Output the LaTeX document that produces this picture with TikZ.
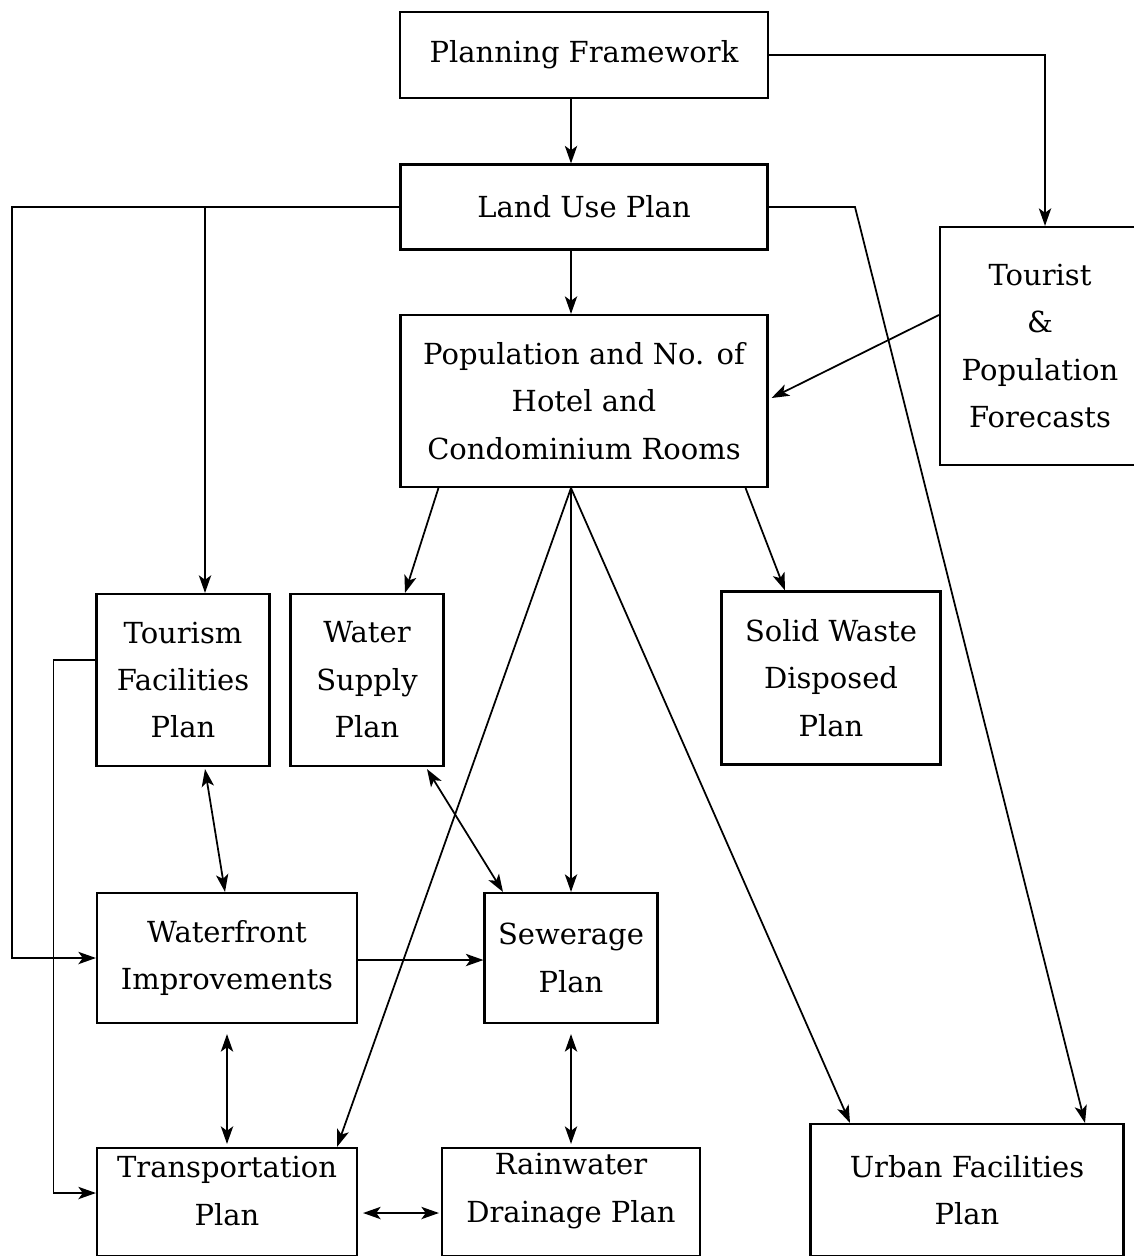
\documentclass[tikz,border=0pt]{standalone}
\usepackage{fontspec}
\setmainfont{DejaVu Serif}
\usetikzlibrary{arrows.meta,calc}
\tikzset{
  plan/.style 2 args={draw, line width=1.2pt, align=center, inner sep=0pt,
    minimum width=#1*0.02cm, minimum height=#2*0.02cm},
  raised/.style={label={[align=center, yshift=0.22cm]center:#1}},
  link/.style={line width=1pt, -{Stealth[length=10pt,width=7pt,inset=2.5pt]}},
  both/.style={line width=1pt, {Stealth[length=10pt,width=7pt,inset=2.5pt]}-{Stealth[length=10pt,width=7pt,inset=2.5pt]}}
}
\begin{document}
\begin{tikzpicture}[x=0.02cm, y=-0.02cm, line width=1pt,
        every node/.style={font=\fontsize{16.5}{27}\selectfont}]
    \useasboundingbox (0,0) rectangle (1133,1256);
    % boxes
    \node[plan={368}{86}] (frame) at (584,55) {Planning Framework};
    \node[plan={367}{85}] (landuse) at (584,207) {Land Use Plan};
    \node[plan={367}{172}] (pop) at (584,401) {Population and No. of\\Hotel and\\Condominium Rooms};
    \node[plan={200}{238}] (forecast) at (1040,346) {Tourist\\\&\\Population\\Forecasts};
    \node[plan={173}{172}] (tourism) at (183,680) {Tourism\\Facilities\\Plan};
    \node[plan={153}{172}] (water) at (367,680) {Water\\Supply\\Plan};
    \node[plan={219}{173}] (waste) at (831,678) {Solid Waste\\Disposed\\Plan};
    \node[plan={260}{130}] (waterfront) at (227,958) {Waterfront\\Improvements};
    \node[plan={173}{130}] (sewer) at (571,958) {Sewerage\\Plan};
    \node[plan={260}{108}, raised={Transportation\\Plan}] (transport) at (227,1202) {};
    \node[plan={258}{108}, raised={Rainwater\\Drainage Plan}] (rain) at (571,1202) {};
    \node[plan={313}{132}] (urban) at (967,1190) {Urban Facilities\\Plan};

    % helper points
    \coordinate (popfoot) at ($(pop.south)+(-13,0)$);
    \coordinate (tbranch) at ($(tourism.north)+(22,0)$);
    \coordinate (lbend) at (12,207);
    \coordinate (ubend) at (855,207);

    % connectors
    \draw[link] ($(frame.south)+(-13,0)$) -- ($(landuse.north)+(-13,0)$);
    \draw[link] (frame.east) -| ($(forecast.north)+(5,0)$);
    \draw[link] ($(landuse.south)+(-13,0)$) -- ($(pop.north)+(-13,0)$);
    \draw[link] (landuse.west) -- (lbend) |- (waterfront.west);
    \draw[link] (tbranch |- landuse.west) -- (tbranch);
    \draw[link] (landuse.east) -- (ubend) -- ($(urban.north)+(118,0)$);
    \draw[link] ($(forecast.west)+(0,-31)$) -- ($(pop.east)+(3,-3)$);
    \draw[link] ($(pop.south west)+(39,0)$) -- ($(water.north)+(38,0)$);
    \draw[link] ($(pop.south east)+(-23,0)$) -- ($(waste.north)+(-46,0)$);
    \draw[link] (popfoot) -- (sewer.north);
    \draw[link] (popfoot) -- ($(transport.north)+(110,0)$);
    \draw[link] (popfoot) -- ($(urban.north)+(-117,0)$);
    \draw[both] ($(tourism.south)+(22,2)$) -- ($(waterfront.north)+(-2,0)$);
    \draw[both] ($(water.south)+(60,2)$) -- ($(sewer.north)+(-68,0)$);
    \draw[link] ($(tourism.west)+(0,-20)$) -- ++(-42,0) |- ($(transport.west)+(0,-9)$);
    \draw[link] ($(waterfront.east)+(0,2)$) -- ($(sewer.west)+(0,2)$);
    \draw[both] ($(waterfront.south)+(0,10)$) -- ($(transport.north)+(0,-3)$);
    \draw[both] ($(sewer.south)+(0,10)$) -- ($(rain.north)+(0,-3)$);
    \draw[both] ($(transport.east)+(5,11)$) -- ($(rain.west)+(-2,11)$);
\end{tikzpicture}
\end{document}
